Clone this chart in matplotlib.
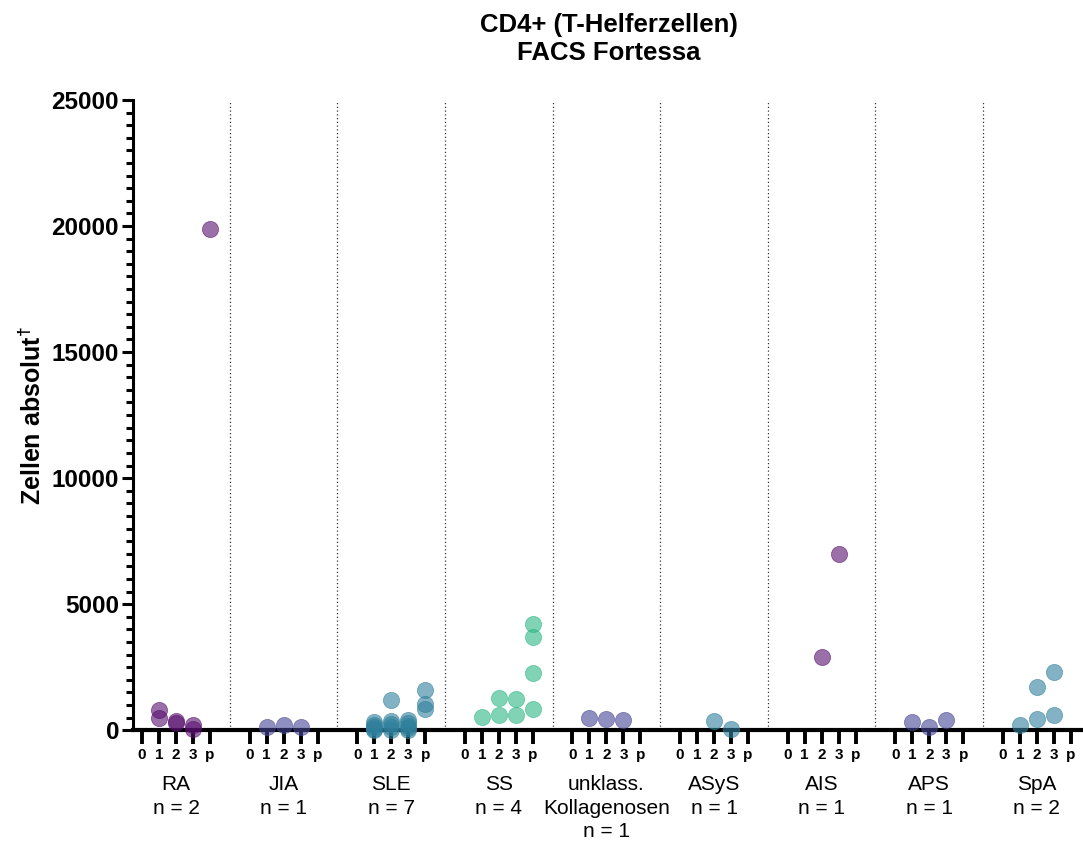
import matplotlib
matplotlib.use("Agg")
import matplotlib.pyplot as plt
from matplotlib.ticker import MultipleLocator

plt.rcParams['font.family'] = ['Liberation Sans', 'DejaVu Sans']
plt.rcParams['mathtext.fontset'] = 'custom'
plt.rcParams['mathtext.rm'] = 'Liberation Sans:bold'
plt.rcParams['mathtext.bf'] = 'Liberation Sans:bold'

# groups and labels
groups = ['RA', 'JIA', 'SLE', 'SS', 'unklass.\nKollagenosen', 'ASyS', 'AIS', 'APS', 'SpA']
n_per_group = [2, 1, 7, 4, 1, 1, 1, 1, 2]
timepoints = ['0', '1', '2', '3', 'p']

# values per timepoint index (0,1,2,3,p)
ra = {1: [790, 500], 2: [380, 300], 3: [200, 60], 4: [19900]}
jia = {1: [120], 2: [200], 3: [120]}
sle = {1: [330, 220, 110, 40, 0], 2: [1200, 380, 260, 110, 20], 3: [420, 280, 150, 70, 10],
       4: [1580, 1050, 840]}
ss = {1: [530], 2: [1280, 600], 3: [1250, 590], 4: [4200, 3700, 2260, 820]}
unklass = {1: [470], 2: [430], 3: [410]}
asys = {2: [360], 3: [30]}
ais = {2: [2920], 3: [6980]}
aps = {1: [320], 2: [140], 3: [420]}
spa = {1: [200], 2: [460, 1730], 3: [620, 2300]}

data = [ra, jia, sle, ss, unklass, asys, ais, aps, spa]
colors = ['#580f6e', '#464696', '#2f7f9c', '#2bb782', '#464696', '#2f7f9c', '#580f6e', '#464696', '#2f7f9c']

group_step = 6.33

fig = plt.figure(figsize=(10.83, 8.48), dpi=100)
ax = fig.add_axes([0.1228, 0.139, 0.877, 0.743])

ticks, ticklabels = [], []
for g, (vals, col) in enumerate(zip(data, colors)):
    base = g * group_step
    for t, lab in enumerate(timepoints):
        ticks.append(base + t)
        ticklabels.append(lab)
    for t, ys in vals.items():
        ax.scatter([base + t] * len(ys), ys, s=135, color=col, alpha=0.6,
                   edgecolors=col, linewidths=0.6, zorder=3, clip_on=False)
    if g < len(data) - 1:
        ax.axvline(base + (4 + group_step) / 2, color='#333333', lw=0.9,
                   ls=(0, (1, 2)), zorder=1)
    ax.text(base + 2, -0.072, groups[g] + '\nn = ' + str(n_per_group[g]),
            transform=ax.get_xaxis_transform(), ha='center', va='top',
            fontsize=15, linespacing=1.3)

ax.set_xlim(-0.53, 8 * group_step + 4.7)
ax.set_ylim(0, 25000)
ax.set_xticks(ticks)
ax.set_xticklabels(ticklabels, fontsize=11, fontweight='bold')
ax.yaxis.set_major_locator(MultipleLocator(5000))
ax.yaxis.set_minor_locator(MultipleLocator(500))
for lab in ax.get_yticklabels():
    lab.set_fontweight('bold')
ax.tick_params(axis='y', which='major', labelsize=17.5, width=2.2, length=8, pad=2)
ax.tick_params(axis='y', which='minor', width=2.2, length=5)
ax.tick_params(axis='x', which='major', width=2.8, length=10, pad=3)

ax.spines['top'].set_visible(False)
ax.spines['right'].set_visible(False)
ax.spines['left'].set_linewidth(2.2)
ax.spines['bottom'].set_linewidth(3)

ax.set_ylabel('Zellen absolut$^{\\dagger}$', fontsize=18, fontweight='bold', labelpad=4)
fig.text(0.562, 0.985, 'CD4+ (T-Helferzellen)\nFACS Fortessa', ha='center', va='top',
         fontsize=18.5, fontweight='bold', linespacing=1.2)

fig.savefig('out.png', dpi=100)
